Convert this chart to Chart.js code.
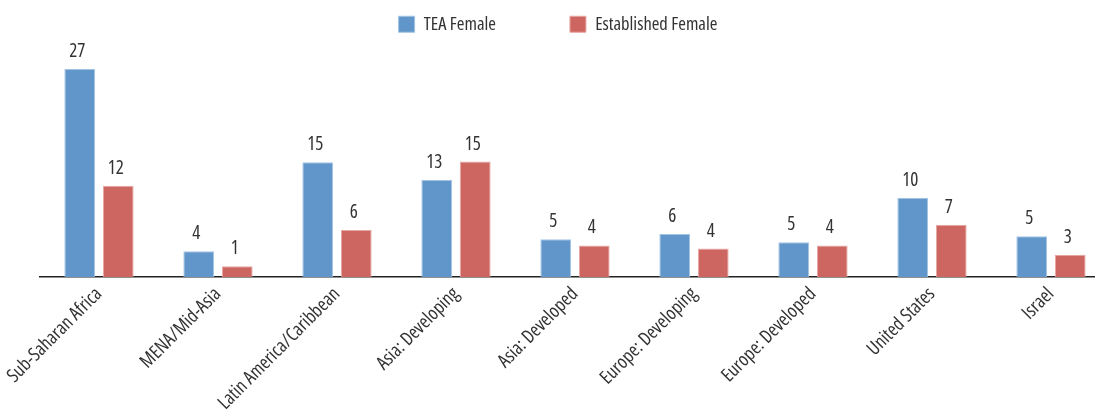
<!DOCTYPE html>
<html>
<head>
<meta charset="utf-8">
<script src="https://cdn.jsdelivr.net/npm/chart.js"></script>
<style>
	html, body{margin: 0; padding: 0; background: #fff; overflow: hidden;}
	#wrap{width: 1095px; height: 410px; overflow: hidden;}
</style>
</head>
<body>
<div id="wrap"><canvas id="c" width="1112" height="410"></canvas></div>
<script>
// категории (регионы)
var regions = ['Sub-Saharan Africa', 'MENA/Mid-Asia', 'Latin America/Caribbean', 'Asia: Developing', 'Asia: Developed', 'Europe: Developing', 'Europe: Developed', 'United States', 'Israel'];
// высоты столбцов
var teaFemale = [27, 3.35, 14.9, 12.6, 4.9, 5.6, 4.5, 10.3, 5.3];
var establishedFemale = [11.85, 1.4, 6.1, 15.0, 4.1, 3.7, 4.1, 6.8, 2.9];
// подписи над столбцами (как напечатано)
var teaLabels = ['27', '4', '15', '13', '5', '6', '5', '10', '5'];
var establishedLabels = ['12', '1', '6', '15', '4', '4', '4', '7', '3'];

var FAMILY = '"Open Sans", sans-serif';
var TEXT = '#333';
// chart.js не пропускает font-stretch в style, а weight не проверяет — кладём туда
var CONDENSED = 'condensed';

var valueLabels = {
	id: 'valueLabels',
	afterDatasetsDraw: function(chart){
		var ctx = chart.ctx;
		var texts = [teaLabels, establishedLabels];
		ctx.save();
		ctx.font = 'condensed 19px ' + FAMILY;
		ctx.fillStyle = TEXT;
		ctx.textAlign = 'center';
		ctx.textBaseline = 'alphabetic';
		chart.data.datasets.forEach(function(ds, i){
			var meta = chart.getDatasetMeta(i);
			meta.data.forEach(function(bar, j){
				ctx.fillText(texts[i][j], bar.x - 2.5, bar.y - 12);
			});
		});
		ctx.restore();
	}
};

// легенда: фиксированная высота + сдвиг (padding у легенды один и для отступа сверху, и между элементами)
var LEGEND_PAD = 74;
var legendTweak = {
	id: 'legendTweak',
	beforeInit: function(chart){
		var fit = chart.legend.fit;
		chart.legend.fit = function(){
			fit.call(this);
			this.height = 46;
		};
	},
	afterLayout: function(chart){
		var lg = chart.legend;
		lg.top = 15 - LEGEND_PAD;
		lg.left -= 17;
		lg.right -= 17;
	}
};

new Chart(document.getElementById('c'), {
	type: 'bar',
	data: {
		labels: regions,
		datasets: [
			{label: 'TEA Female', data: teaFemale, backgroundColor: '#6096C9', borderColor: '#a3c3e2', borderWidth: 1},
			{label: 'Established Female', data: establishedFemale, backgroundColor: '#CD6660', borderColor: '#e6a8a3', borderWidth: 1}
		]
	},
	options: {
		responsive: false,
		animation: false,
		layout: {padding: {left: 39.5, right: 1.5, top: 0, bottom: 0}},
		categoryPercentage: 0.647,
		barPercentage: 0.8,
		plugins: {
			legend: {
				position: 'top',
				labels: {
					boxWidth: 16,
					boxHeight: 16,
					padding: LEGEND_PAD,
					color: TEXT,
					font: {family: FAMILY, size: 18.5, weight: CONDENSED}
				}
			},
			tooltip: {enabled: false}
		},
		scales: {
			x: {
				grid: {display: false, drawTicks: false},
				border: {display: true, color: '#222', width: 1.5},
				ticks: {
					minRotation: 45,
					maxRotation: 45,
					padding: 6,
					color: TEXT,
					font: {family: FAMILY, size: 19, weight: CONDENSED}
				},
				afterFit: function(s){
					s.height = 133;
					s.paddingLeft = 0;
					s.paddingRight = 0;
				}
			},
			y: {
				display: false,
				min: 0,
				max: 30
			}
		}
	},
	plugins: [valueLabels, legendTweak]
});
</script>
</body>
</html>
